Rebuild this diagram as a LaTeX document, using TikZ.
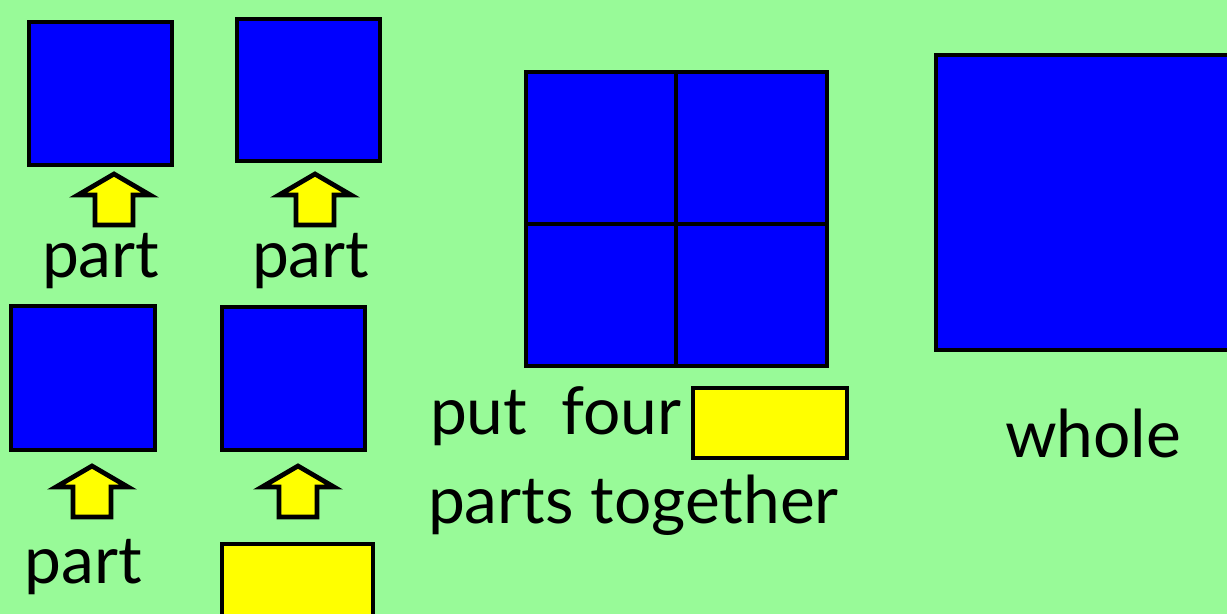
\documentclass[tikz,border=0pt]{standalone}
\usepackage{fontspec}
\setmainfont{Lato}
\usetikzlibrary{positioning}
\definecolor{bggreen}{RGB}{152,250,152}
\definecolor{sqblue}{RGB}{0,0,255}
\definecolor{boxyellow}{RGB}{255,255,0}

\begin{document}
\begin{tikzpicture}[x=0.02cm,y=-0.02cm,every node/.style={font=\fontsize{37.5}{42}\selectfont,inner sep=0pt,outer sep=0pt},sq/.style={draw,line width=2.6pt,fill=sqblue,anchor=north west},blank/.style={draw,line width=2.6pt,fill=boxyellow,anchor=north west},word/.style={anchor=base west},uparr/.pic={\draw[line width=2.7pt,fill=boxyellow] (0,0) -- (36,21) -- (19,21) -- (19,51) -- (-19,51) -- (-19,21) -- (-36,21) -- cycle;}]
\useasboundingbox (0,0) rectangle (1227,614);
\fill[bggreen] (0,0) rectangle (1227,614);
\clip (0,0) rectangle (1227,614);
% parts on the left
\node[sq,minimum width=2.86cm,minimum height=2.86cm] (p1) at (29,22) {};
\node[sq,minimum width=2.86cm,minimum height=2.84cm] (p2) at (237,19) {};
\node[sq,minimum width=2.88cm,minimum height=2.88cm] (p3) at (11,306) {};
\node[sq,minimum width=2.86cm,minimum height=2.86cm] (p4) at (222,307) {};
\pic at (114,174) {uparr};
\pic at (315,174) {uparr};
\pic at (92,466) {uparr};
\pic at (298,466) {uparr};
\node[word] (l1) at (42,278) {part};
\node[word] (l2) at (252,278) {part};
\node[word] (l3) at (25,583) {part};
\node[blank,minimum width=3.02cm,minimum height=1.8cm] (b2) at (222,544) {};
% four parts together
\node[sq,minimum width=3cm,minimum height=3.04cm] (q1) at (526,72) {};
\node[sq,minimum width=3.02cm,minimum height=3.04cm] (q2) at (q1.north east) {};
\node[sq,minimum width=3cm,minimum height=2.84cm] (q3) at (q1.south west) {};
\node[sq,minimum width=3.02cm,minimum height=2.84cm] (q4) at (q3.north east) {};
\node[word] (put) at (430,435) {put\ \ four};
\node[word] (tog) at (428,523) {parts together};
\node[blank,minimum width=3.08cm,minimum height=1.4cm] (b1) at (693,388) {};
% the whole
\node[sq,minimum width=6cm,minimum height=5.9cm] (whole) at (936,55) {};
\node[word] (w) at (1005,458) {whole};
\end{tikzpicture}
\end{document}
